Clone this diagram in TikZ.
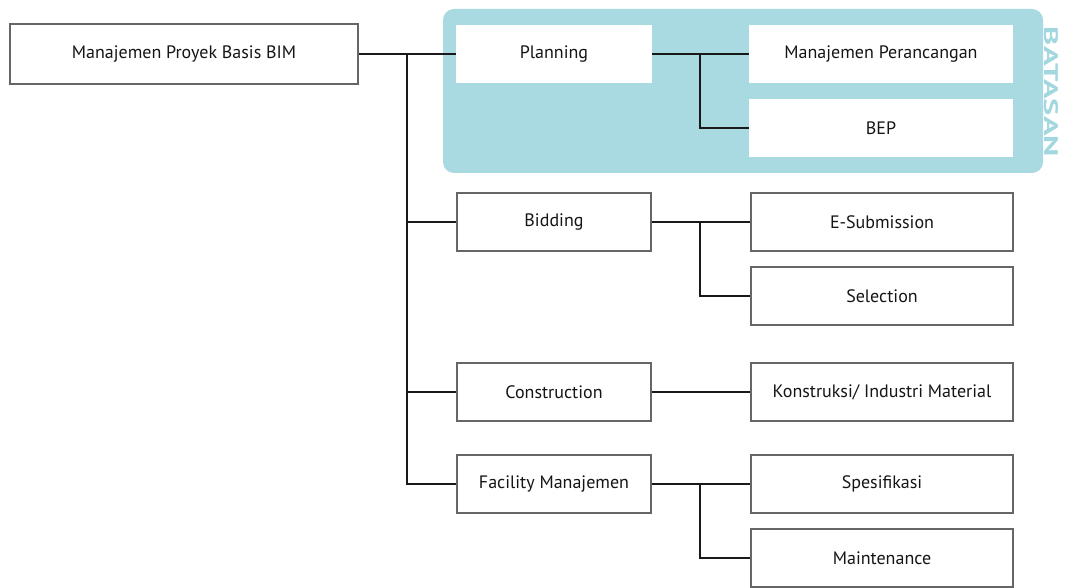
\documentclass[tikz,border=0pt]{standalone}
\usepackage{fontspec}
\setmainfont{PT Sans}
\definecolor{panelteal}{HTML}{A9DAE1}
\definecolor{labelteal}{HTML}{A3D7DF}
\definecolor{boxgray}{HTML}{666666}
\definecolor{txt}{HTML}{151515}
\begin{document}
\begin{tikzpicture}[x=1pt,y=-1pt,
  box/.style={draw=boxgray, line width=1.6pt, fill=white, inner sep=0pt, text=txt, font=\fontsize{18}{20}\selectfont},
  inbox/.style={fill=white, inner sep=0pt, text=txt, font=\fontsize{18}{20}\selectfont},
  conn/.style={draw=black!90, line width=2.8pt}]
\path[use as bounding box, fill=white] (0,0) rectangle (1070,588);
% panel
\fill[panelteal, rounded corners=11pt] (443,9) rectangle (1043,173);
\node[text=labelteal, rotate=-90, inner sep=0pt] (batasan) at (1051.5,92) {\resizebox{130pt}{14pt}{\bfseries BATASAN}};
% nodes
\node[box, minimum width=348pt, minimum height=60pt] (root) at (184,54) {Manajemen Proyek Basis BIM};
\node[inbox, minimum width=196pt, minimum height=58pt] (plan) at (554,54) {Planning};
\node[inbox, minimum width=264pt, minimum height=58pt] (mp) at (881,54) {Manajemen Perancangan};
\node[inbox, minimum width=264pt, minimum height=58pt] (bep) at (881,128) {BEP};
\node[box, minimum width=194pt, minimum height=58pt] (bid) at (554,222) {Bidding};
\node[box, minimum width=262pt, minimum height=58pt] (esub) at (882,222) {E-Submission};
\node[box, minimum width=262pt, minimum height=58pt] (sel) at (882,296) {Selection};
\node[box, minimum width=194pt, minimum height=58pt] (con) at (554,392) {Construction};
\node[box, minimum width=262pt, minimum height=58pt] (kon) at (882,392) {Konstruksi/ Industri Material};
\node[box, minimum width=194pt, minimum height=58pt] (fac) at (554,484) {Facility Manajemen};
\node[box, minimum width=262pt, minimum height=58pt] (spe) at (882,484) {Spesifikasi};
\node[box, minimum width=262pt, minimum height=58pt] (mai) at (882,558) {Maintenance};
% trunk
\coordinate (tk) at (407,54);
\draw[conn] (root.east) -- (plan.west);
\draw[conn] (tk) |- (fac.west);
\draw[conn] (tk |- bid.west) -- (bid.west);
\draw[conn] (tk |- con.west) -- (con.west);
% branches
\coordinate (b1) at (700,54);
\draw[conn] (plan.east) -- (mp.west);
\draw[conn] (b1) |- (bep.west);
\draw[conn] (bid.east) -- (esub.west);
\draw[conn] (bid.east -| b1) |- (sel.west);
\draw[conn] (con.east) -- (kon.west);
\draw[conn] (fac.east) -- (spe.west);
\draw[conn] (fac.east -| b1) |- (mai.west);
\end{tikzpicture}
\end{document}
